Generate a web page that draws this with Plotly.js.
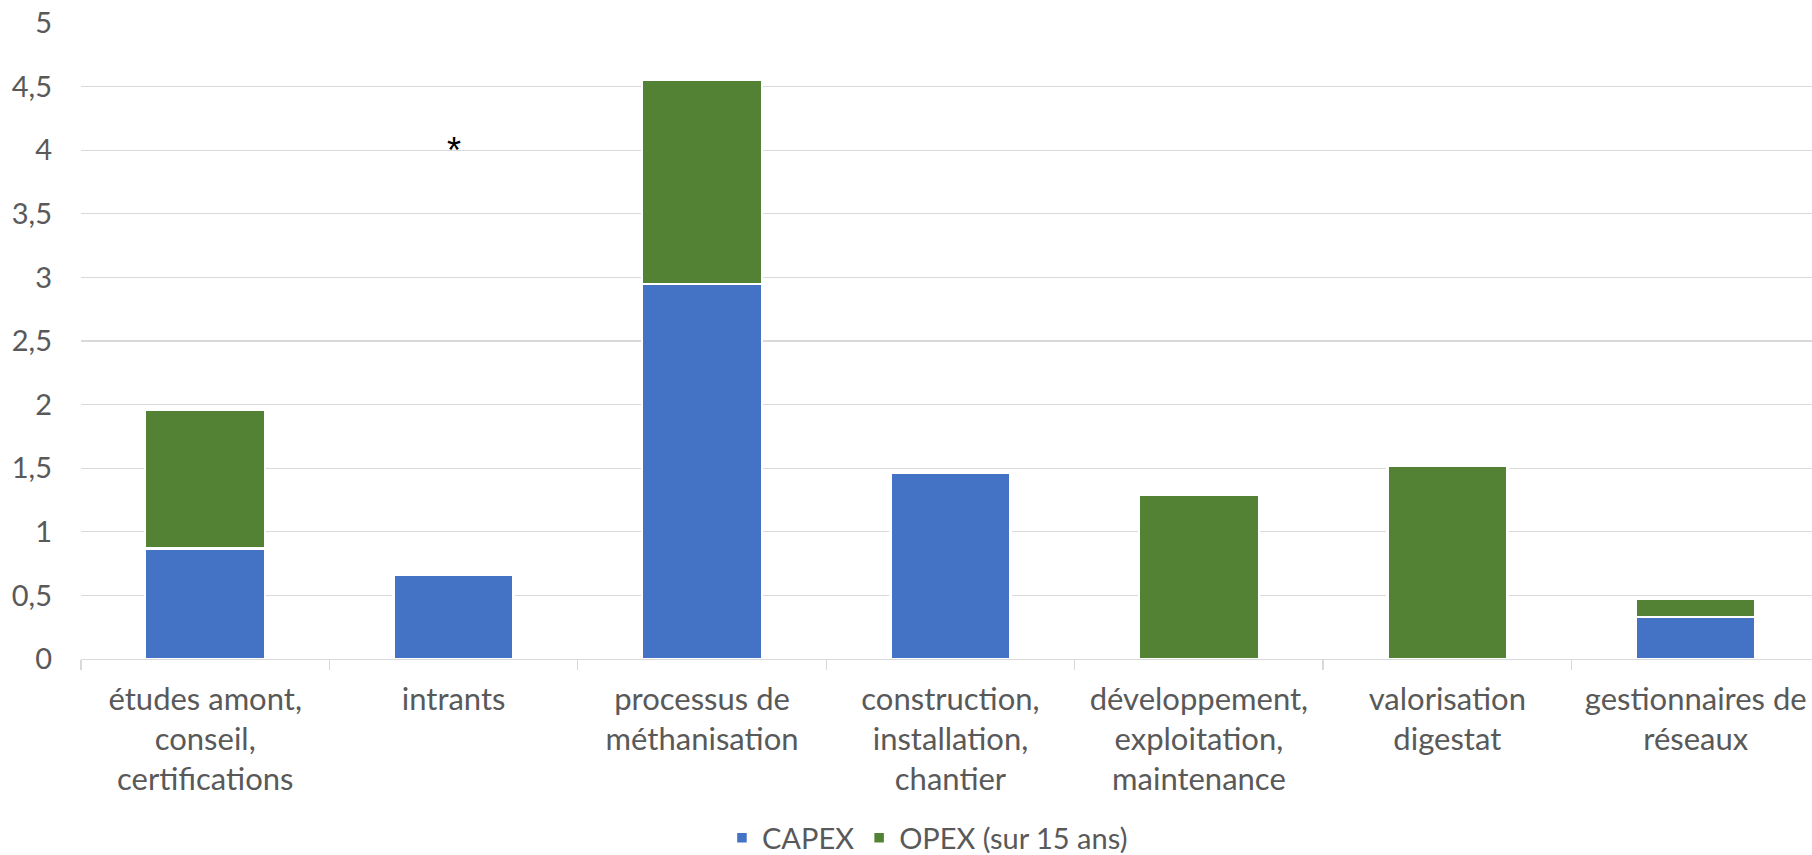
<!DOCTYPE html>
<html>
<head>
<meta charset="utf-8">
<script src="https://cdn.plot.ly/plotly-3.0.1.min.js"></script>
<style>html,body{margin:0;padding:0;background:#fff;}#chart{width:1812px;height:855px;}</style>
</head>
<body>
<div id="chart"></div>
<script>
const categories = [
  "études amont,<br>conseil,<br>certifications",
  "intrants",
  "processus de<br>méthanisation",
  "construction,<br>installation,<br>chantier",
  "développement,<br>exploitation,<br>maintenance",
  "valorisation<br>digestat",
  "gestionnaires de<br>réseaux"
];
const capex = [0.87, 0.66, 2.95, 1.465, null, null, 0.33];
const opex  = [1.09, null, 1.60, null, 1.29, 1.52, 0.145];
const seriesNames = ["CAPEX", "OPEX (sur 15 ans)"];
const yTicks = [0, 0.5, 1, 1.5, 2, 2.5, 3, 3.5, 4, 4.5, 5];
const noteCategory = "intrants";
const noteValue = 4;
const noteText = "*";

const FONT = "Lato, 'Open Sans', sans-serif";
const TXT = "#595959";

const traces = [
  {type: "bar", name: seriesNames[0], x: categories, y: capex,
   marker: {color: "#4472C4", line: {color: "#ffffff", width: 2.5}}},
  {type: "bar", name: seriesNames[1], x: categories, y: opex,
   marker: {color: "#548235", line: {color: "#ffffff", width: 2.5}}}
];

const layout = {
  width: 1812, height: 855,
  margin: {l: 81, r: 0, t: 23, b: 196, pad: 0},
  paper_bgcolor: "#ffffff", plot_bgcolor: "#ffffff",
  barmode: "stack",
  bargap: 0.517,
  separators: ", ",
  font: {family: FONT, size: 29, color: TXT},
  showlegend: true,
  legend: {orientation: "h", xref: "paper", yref: "container",
           x: 0.489, xanchor: "center", y: 0.02, yanchor: "middle",
           font: {family: FONT, size: 29, color: TXT}, traceorder: "normal",
           itemwidth: 30},
  xaxis: {type: "category", range: [-0.5, 6.468], tickson: "boundaries",
          ticks: "outside", ticklen: 10, tickwidth: 1.3, tickcolor: "#d9d9d9",
          showline: true, linecolor: "#d9d9d9", linewidth: 1.3,
          showgrid: false, zeroline: false, ticklabelstandoff: 12, automargin: false,
          tickfont: {family: FONT, size: 31, color: TXT}},
  yaxis: {range: [0, 5], tickmode: "array", tickvals: yTicks,
          showgrid: true, gridcolor: "#d9d9d9", gridwidth: 1.3, automargin: false,
          zeroline: false, showline: false, ticks: "", ticklabelstandoff: 28,
          tickfont: {family: FONT, size: 29, color: TXT}},
  annotations: [{x: noteCategory, y: noteValue, xref: "x", yref: "y", text: noteText,
                 showarrow: false, yanchor: "middle", xanchor: "center",
                 font: {family: "'Liberation Sans', Arial, sans-serif", size: 36, color: "#000000"}}]
};

Plotly.newPlot("chart", traces, layout, {staticPlot: true, displayModeBar: false});
</script>
</body>
</html>
